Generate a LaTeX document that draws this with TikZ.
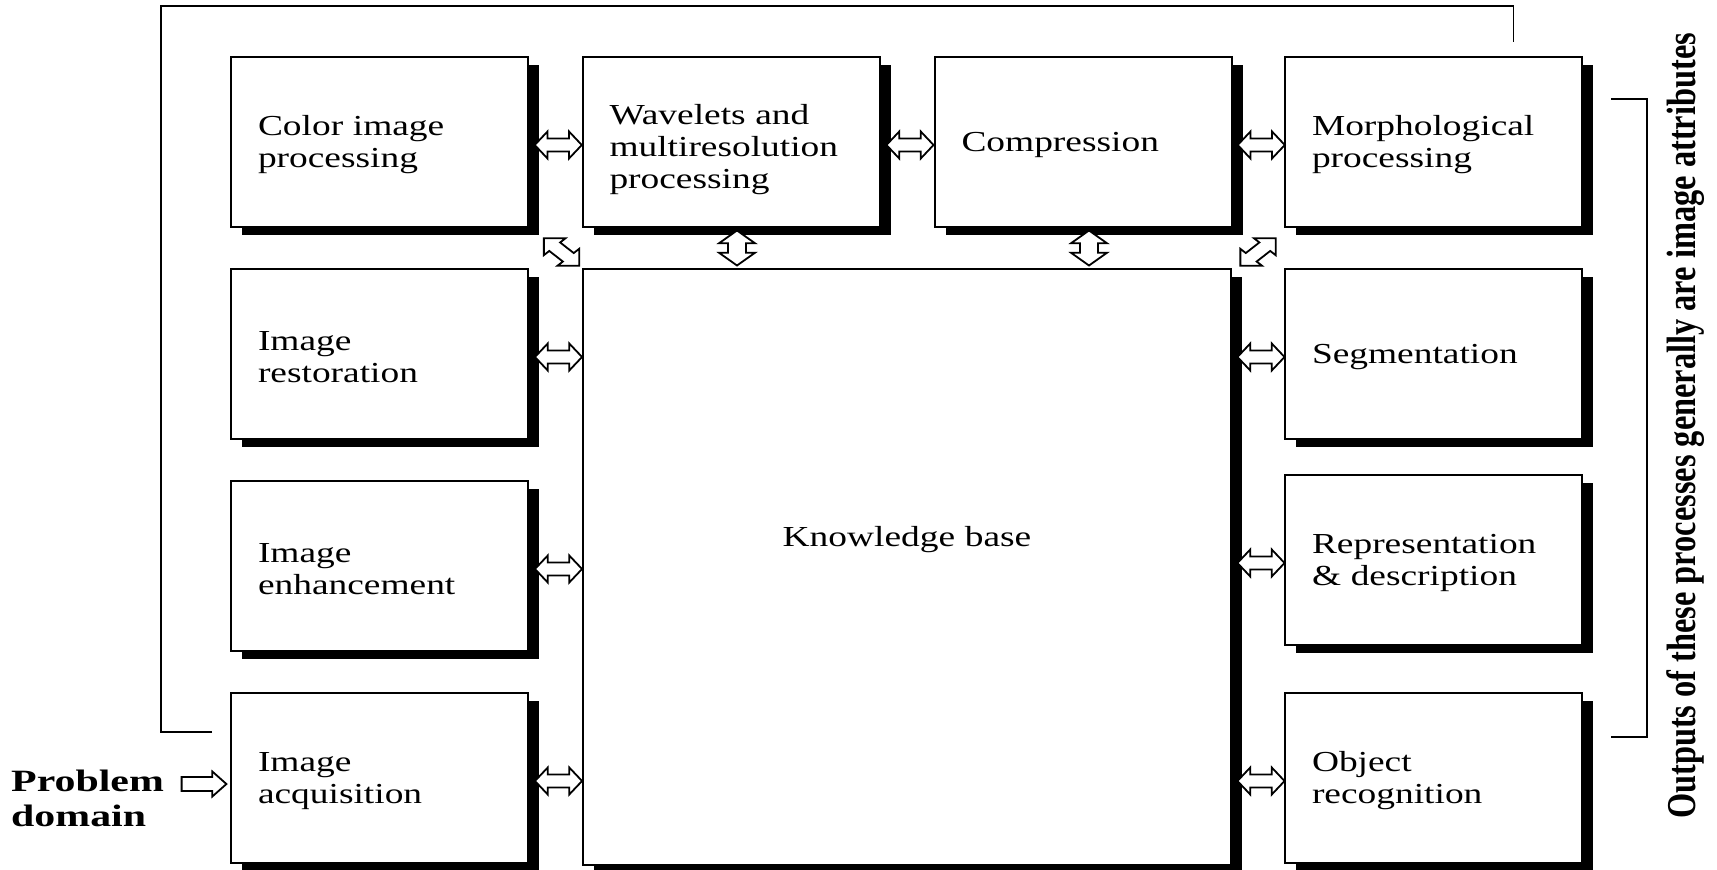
\documentclass[tikz,border=0pt]{standalone}
\usepackage{fontspec}
\newfontfamily\widefont{Liberation Serif}[FakeStretch=1.29]
\newfontfamily\labelfont{Liberation Serif}[FakeStretch=1.35]
\newfontfamily\tallfont{Liberation Serif}[FakeStretch=0.79]
\usetikzlibrary{calc,shadows}

\tikzset{
  procbox/.style={rectangle, draw=black, line width=2pt, fill=white,
    minimum width=297pt, minimum height=170pt,
    inner xsep=27pt, text width=243pt, align=left,
    font=\widefont\fontsize{29}{32}\selectfont,
    execute at begin node={\rule{0pt}{26pt}},
    drop shadow={shadow xshift=11pt, shadow yshift=-8pt, opacity=1, fill=black}},
  kbbox/.style={procbox, minimum width=648pt, minimum height=596pt,
    text width=594pt, align=center, text height=20pt, text depth=62pt},
  blockarrow/.style={draw=black, fill=white, line width=1.8pt, line join=miter},
  frameline/.style={draw=black, line width=1.8pt},
  % double-headed hollow block arrow: half length, head length, head half width, shaft half width
  pics/blockdbl/.style n args={4}{code={
    \draw[blockarrow] (-#1,0) -- ++(#2,-#3) -- ++(0,#3-#4) -- (#1-#2,-#4)
      -- ++(0,#4-#3) -- (#1,0) -- ++(-#2,#3) -- ++(0,#4-#3)
      -- (-#1+#2,#4) -- ++(0,#3-#4) -- cycle;
  }},
  % single-headed hollow block arrow
  pics/blocksgl/.style n args={4}{code={
    \draw[blockarrow] (-#1,-#4) -- (#1-#2,-#4) -- ++(0,#4-#3) -- (#1,0)
      -- ++(-#2,#3) -- ++(0,#4-#3) -- (-#1,#4) -- cycle;
  }},
  hdbl/.style={xscale=1.28},
}

\begin{document}
\begin{tikzpicture}[x=1pt,y=-1pt]
\useasboundingbox (0,0) rectangle (1717,870);
\fill[white] (0,0) rectangle (1717,870);

% processing stages
\node[procbox] (color)  at (379.5,142) {Color image\\processing};
\node[procbox] (restor) at (379.5,354) {Image\\restoration};
\node[procbox] (enh)    at (379.5,566) {Image\\enhancement};
\node[procbox] (acq)    at (379.5,778) {Image\\acquisition};
\node[procbox] (wav)    at (731,142)   {\rule{0pt}{36pt}Wavelets and\\multiresolution\\processing};
\node[procbox] (comp)   at (1083,142)  {Compression};
\node[procbox] (morph)  at (1433.5,142) {Morphological\\processing};
\node[procbox] (seg)    at (1433.5,354) {Segmentation};
\node[procbox] (repr)   at (1433.5,560) {Representation\\\& description};
\node[procbox] (obj)    at (1433.5,778) {Object\\recognition};
\node[kbbox]   (kb)     at (907,567)    {Knowledge base};

% problem domain input
\node[anchor=west, align=left, inner sep=0pt,
  font=\labelfont\bfseries\fontsize{31}{35}\selectfont] (pd) at (11,798) {Problem\\domain};
\path ($(pd.east)!0.5!(acq.west)+(7,-4)$) pic[hdbl]{blocksgl={17.5}{11}{12.5}{7}};

% links along the top row
\path ($(color.east)!0.5!(wav.west)+(3,3)$) pic[hdbl]{blockdbl={18.4}{10}{13.5}{6.5}};
\path ($(wav.east)!0.5!(comp.west)+(3,3)$) pic[hdbl]{blockdbl={18.4}{10}{13.5}{6.5}};
\path ($(comp.east)!0.5!(morph.west)+(3,3)$) pic[hdbl]{blockdbl={18.4}{10}{13.5}{6.5}};

% links between the stages and the knowledge base
\foreach \s in {restor,enh,acq}{
  \path ($(\s.east)!0.5!(\s.east -| kb.west)+(3,3)$) pic[hdbl]{blockdbl={18.4}{10}{13.5}{6.5}};
}
\foreach \s in {seg,repr,obj}{
  \path ($(\s.west -| kb.east)!0.5!(\s.west)+(3,3)$) pic[hdbl]{blockdbl={18.4}{10}{13.5}{6.5}};
}
\path ($(wav.south)!0.5!(wav.south |- kb.north)+(6,0)$) pic[hdbl,rotate=90]{blockdbl={17.5}{12.7}{14}{7}};
\path ($(comp.south)!0.5!(comp.south |- kb.north)+(6,0)$) pic[hdbl,rotate=90]{blockdbl={17.5}{12.7}{14}{7}};
\path ($(color.south east)!0.5!(kb.north west)+(6,4)$) pic[hdbl,rotate=-45]{blockdbl={19.5}{12}{12}{6}};
\path ($(morph.south west)!0.5!(kb.north east)+(0,4)$) pic[hdbl,rotate=45]{blockdbl={19.5}{12}{12}{6}};

% feedback line around the stages
\coordinate (fbA) at ($(acq.north west)+(-18,40)$);
\coordinate (fbL) at ($(acq.west)+(-69,0)$);
\coordinate (fbT) at ($(color.north)+(0,-50)$);
\coordinate (fbB) at ($(morph.north)+(80,-14)$);
\draw[frameline] (fbA) -- (fbA -| fbL) -- (fbL |- fbT) -- (fbB |- fbT) -- (fbB);

% bracket over the output stages
\coordinate (brT) at ($(morph.east)+(28,-43)$);
\coordinate (brB) at ($(obj.east)+(28,-41)$);
\draw[frameline] (brT) -- ++(36,0) |- (brB);
\node[rotate=90, anchor=base, inner sep=0pt,
  font=\tallfont\bfseries\fontsize{41}{43}\selectfont] (outs) at (1695,426)
  {Outputs of these processes generally are image attributes};
\end{tikzpicture}
\end{document}
